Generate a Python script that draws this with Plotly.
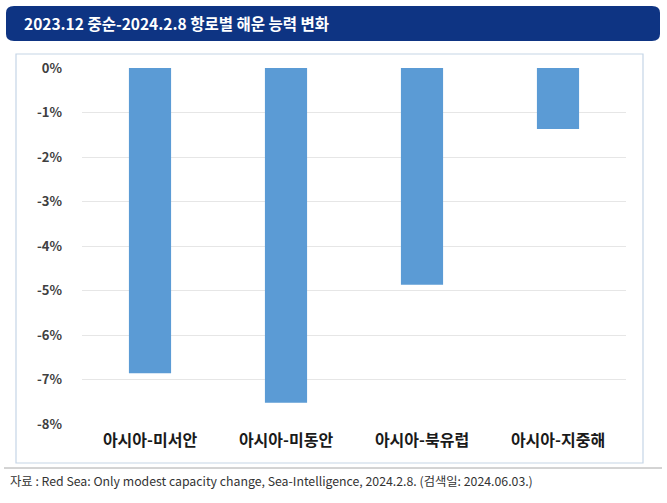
import plotly.graph_objects as go

routes = ["아시아-미서안", "아시아-미동안", "아시아-북유럽", "아시아-지중해"]
change_pct = [-6.86, -7.52, -4.87, -1.37]
tick_vals = [0, -1, -2, -3, -4, -5, -6, -7, -8]
tick_text = ["0%", "-1%", "-2%", "-3%", "-4%", "-5%", "-6%", "-7%", "-8%"]

title_text = "2023.12 중순-2024.2.8 항로별 해운 능력 변화"
source_text = "자료 : Red Sea: Only modest capacity change, Sea-Intelligence, 2024.2.8. (검색일: 2024.06.03.)"

W, H = 667, 503
L, R, T, B = 82, 41, 68, 79
PW, PH = W - L - R, H - T - B
font = "Noto Sans CJK KR"

fig = go.Figure()
fig.add_trace(go.Bar(
    x=routes, y=change_pct, width=0.31,
    marker=dict(color="#5B9BD5", line=dict(width=0)),
))


# pixel position on the page -> paper coordinates
def px(x):
    return (x - L) / PW


def py(y):
    return (T + PH - y) / PH


shapes = [
    # title bar
    dict(type="path", xref="paper", yref="paper",
         path="M {a},{b} L {c},{b} Q {d},{b} {d},{e} L {d},{f} Q {d},{g} {c},{g} "
              "L {a},{g} Q {h},{g} {h},{f} L {h},{e} Q {h},{b} {a},{b} Z".format(
                  a=px(14), b=py(6), c=px(652), d=px(660), e=py(13), f=py(34),
                  g=py(41), h=px(6)),
         fillcolor="#0E3483", line=dict(width=0), layer="below"),
    # chart box
    dict(type="rect", xref="paper", yref="paper",
         x0=px(16), x1=px(643), y0=py(54), y1=py(463),
         line=dict(color="#C5D5E6", width=1.2), fillcolor="rgba(0,0,0,0)", layer="below"),
    # separator
    dict(type="line", xref="paper", yref="paper",
         x0=px(4), x1=px(662), y0=py(468), y1=py(468),
         line=dict(color="#A8A8A8", width=1)),
]

fig.update_layout(
    width=W, height=H,
    margin=dict(l=L, r=R, t=T, b=B),
    paper_bgcolor="white", plot_bgcolor="white",
    showlegend=False,
    shapes=shapes,
    font=dict(family=font),
    annotations=[
        dict(text="<b>" + title_text + "</b>", xref="paper", yref="paper",
             x=px(22), y=py(23), xanchor="left", yanchor="middle", showarrow=False,
             font=dict(size=15.5, color="white", family=font)),
        dict(text=source_text, xref="paper", yref="paper",
             x=px(8), y=py(481), xanchor="left", yanchor="middle", showarrow=False,
             font=dict(size=12.3, color="#333333", family=font)),
    ],
)

fig.update_yaxes(
    range=[-8, 0], tickvals=tick_vals, ticktext=["<b>" + t + "</b>" for t in tick_text],
    showgrid=True, gridcolor="#E6E6E6", gridwidth=1, zeroline=False,
    showline=False, ticks="", ticklabelstandoff=19,
    tickfont=dict(size=13, color="#404040", family=font),
)
fig.update_xaxes(
    showgrid=False, showline=False, ticks="", ticklabelstandoff=5,
    tickvals=routes, ticktext=["<b>" + r + "</b>" for r in routes],
    tickfont=dict(size=16, color="#1A1A1A", family=font),
)

# drop the default 8px body margin so the figure sits at the page origin
fig.write_html("out.html", config={"displayModeBar": False},
               post_script="document.body.style.margin='0px';")
